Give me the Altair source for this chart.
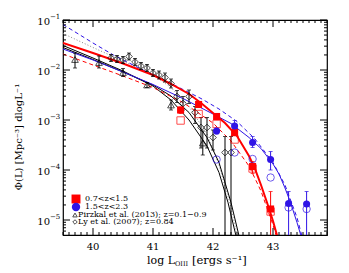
import altair as alt
import pandas as pd

# ---------------- data (log10 of phi) ----------------
red_x = [41.46, 41.76, 42.06, 42.36, 42.66, 42.96]
red_logphi = [-2.80, -2.69, -2.93, -3.25, -3.93, -4.78]
red_lo = [-2.87, -2.75, -2.99, -3.31, -4.07, -5.6]
red_hi = [-2.74, -2.63, -2.87, -3.19, -3.83, -4.43]
red_open_logphi = [-3.01, -2.88, -3.08, -3.39, -3.97, -4.83]

blue_x = [42.06, 42.36, 42.66, 42.96, 43.26, 43.56]
blue_logphi = [-3.22, -3.12, -3.45, -3.79, -4.67, -4.68]
blue_lo = [-3.28, -3.19, -3.55, -4.00, -5.6, -5.6]
blue_hi = [-3.16, -3.01, -3.33, -3.63, -4.43, -4.43]
blue_open_logphi = [-3.79, -3.65, -3.78, -4.15, -4.75, -4.78]

pirz_x = [39.7, 40.1, 40.5, 40.9, 41.3, 41.83]
pirz_logphi = [-1.79, -1.85, -2.05, -2.30, -2.70, -3.46]
pirz_lo = [-1.96, -1.96, -2.13, -2.35, -2.80, -3.70]
pirz_hi = [-1.66, -1.72, -1.97, -2.25, -2.60, -3.22]

ly_x = [40.3, 40.4, 40.5, 40.6, 40.7, 40.8, 40.9, 41.0, 41.1, 41.2,
        41.3, 41.4, 41.5, 41.6, 41.7, 41.8, 41.9, 42.0, 42.2, 42.3]
ly_logphi = [-1.76, -1.78, -1.80, -1.73, -1.84, -1.92, -1.96, -2.06, -2.10, -2.15,
             -2.27, -2.53, -2.67, -2.53, -2.85, -3.15, -3.15, -3.35, -3.65, -3.65]
ly_lo = [-1.83, -1.85, -1.87, -1.80, -1.91, -1.99, -2.03, -2.13, -2.18, -2.24,
         -2.36, -2.65, -2.80, -2.67, -3.07, -3.56, -3.56, -3.60, -5.6, -5.6]
ly_hi = [-1.69, -1.71, -1.73, -1.66, -1.77, -1.85, -1.89, -1.99, -2.02, -2.06,
         -2.18, -2.41, -2.53, -2.40, -2.73, -2.95, -2.95, -3.20, -3.33, -3.33]

# fitted curves
red_fit_x = [39.5, 40.0, 40.5, 41.0, 41.3, 41.6, 41.8, 42.0, 42.2, 42.4, 42.6, 42.7, 42.8, 42.9, 43.0, 43.1]
red_fit_y = [-1.46, -1.66, -1.87, -2.10, -2.28, -2.48, -2.66, -2.86, -3.06, -3.32, -3.72, -3.98, -4.30, -4.65, -5.02, -5.45]
red_dash_x = [39.5, 40.0, 40.5, 41.0, 41.5, 42.0, 42.3, 42.6, 42.8, 43.0, 43.1]
red_dash_y = [-1.68, -1.90, -2.12, -2.35, -2.65, -3.06, -3.42, -3.92, -4.42, -5.10, -5.50]
blue_fit_x = [39.5, 40.0, 40.5, 41.0, 41.5, 42.0, 42.3, 42.6, 42.8, 43.0, 43.1, 43.2, 43.3, 43.4, 43.5]
blue_fit_y = [-1.58, -1.80, -2.04, -2.29, -2.57, -2.88, -3.07, -3.35, -3.57, -3.88, -4.08, -4.36, -4.68, -5.05, -5.45]
blue_dash_x = [39.5, 40.0, 40.34, 40.8, 41.3, 41.8, 42.1, 42.4, 42.7, 43.0, 43.2, 43.4, 43.5]
blue_dash_y = [-1.09, -1.46, -1.70, -1.98, -2.27, -2.57, -2.78, -3.03, -3.38, -3.85, -4.30, -4.95, -5.40]
blk1_x = [39.5, 40.0, 40.5, 41.0, 41.3, 41.6, 41.9, 42.1, 42.25, 42.4]
blk1_y = [-1.51, -1.76, -2.02, -2.32, -2.60, -3.00, -3.52, -4.05, -4.65, -5.40]
blk2_x = [39.5, 40.0, 40.5, 41.0, 41.3, 41.6, 41.9, 42.1, 42.3, 42.45]
blk2_y = [-1.55, -1.79, -2.04, -2.30, -2.52, -2.85, -3.35, -3.85, -4.65, -5.40]
dot_x = [39.5, 40.0, 40.5, 41.0, 41.3, 41.6, 41.9, 42.1, 42.3, 42.42]
dot_y = [-1.27, -1.55, -1.82, -2.10, -2.35, -2.73, -3.28, -3.90, -4.75, -5.40]

x_major = [40, 41, 42, 43]
y_major = [1e-1, 1e-2, 1e-3, 1e-4, 1e-5]
y_sup = ["−1", "−2", "−3", "−4", "−5"]
legend_labels = ["0.7<z<1.5", "1.5<z<2.3", "Pirzkal et al. (2013); z=0.1−0.9", "Ly et al. (2007); z=0.84"]

# ---------------- layout ----------------
W, H = 264, 215
XDOM = [39.5, 43.9]
YDOM = [10 ** -5.3, 0.1]
RED = "#ff0000"
BLUE = "#2f14e6"
SERIF = "DejaVu Serif"

xs = alt.Scale(domain=XDOM)
ys = alt.Scale(type="log", domain=YDOM)


def pts(xv, lv):
    return pd.DataFrame({"x": xv, "phi": [10 ** v for v in lv]})


def X():
    return alt.X("x:Q", scale=xs, axis=None)


def Y(f="phi"):
    return alt.Y(f + ":Q", scale=ys, axis=None)


def curve(xv, lv, color, width=1.0, dash=None):
    kw = dict(color=color, strokeWidth=width, clip=True)
    if dash:
        kw["strokeDash"] = dash
    return alt.Chart(pts(xv, lv)).mark_line(**kw).encode(x=X(), y=Y())


def errbars(xv, lo, hi, color):
    d = pd.DataFrame({"x": xv, "lo": [10 ** v for v in lo], "hi": [10 ** v for v in hi]})
    r = alt.Chart(d).mark_rule(color=color, strokeWidth=1, clip=True).encode(
        x=X(), y=Y("lo"), y2="hi")
    c1 = alt.Chart(d).mark_tick(color=color, orient="horizontal", size=4, thickness=1, clip=True).encode(
        x=X(), y=Y("lo"))
    c2 = alt.Chart(d).mark_tick(color=color, orient="horizontal", size=4, thickness=1, clip=True).encode(
        x=X(), y=Y("hi"))
    return r + c1 + c2


layers = []
layers.append(curve(dot_x, dot_y, "#888888", 1.0, [1, 2]))
layers.append(curve(blk1_x, blk1_y, "black", 1.0))
layers.append(curve(blk2_x, blk2_y, "black", 1.0))
layers.append(curve(blue_dash_x, blue_dash_y, BLUE, 1.0, [4, 3]))
layers.append(curve(red_dash_x, red_dash_y, RED, 1.0, [4, 3]))
layers.append(curve(blue_fit_x, blue_fit_y, BLUE, 1.0))
layers.append(curve(red_fit_x, red_fit_y, RED, 2.0))

layers.append(errbars(ly_x, ly_lo, ly_hi, "black"))
layers.append(errbars(pirz_x, pirz_lo, pirz_hi, "black"))
layers.append(errbars(red_x, red_lo, red_hi, RED))
layers.append(errbars(blue_x, blue_lo, blue_hi, BLUE))

layers.append(alt.Chart(pts(ly_x, ly_logphi)).mark_point(
    shape="diamond", filled=False, color="black", size=45, strokeWidth=1).encode(x=X(), y=Y()))
layers.append(alt.Chart(pts(pirz_x, pirz_logphi)).mark_point(
    shape="triangle-up", filled=False, color="black", size=45, strokeWidth=1).encode(x=X(), y=Y()))
layers.append(alt.Chart(pts(red_x, red_open_logphi)).mark_point(
    shape="square", filled=False, color=RED, size=55, strokeWidth=1).encode(x=X(), y=Y()))
layers.append(alt.Chart(pts(blue_x, blue_open_logphi)).mark_point(
    shape="circle", filled=False, color=BLUE, size=55, strokeWidth=1).encode(x=X(), y=Y()))
layers.append(alt.Chart(pts(red_x, red_logphi)).mark_point(
    shape="square", filled=True, color=RED, size=50, opacity=1).encode(x=X(), y=Y()))
layers.append(alt.Chart(pts(blue_x, blue_logphi)).mark_point(
    shape="circle", filled=True, color=BLUE, size=50, opacity=1).encode(x=X(), y=Y()))

# ---------------- inward ticks on all four sides ----------------
x_minor = [round(39.5 + 0.1 * i, 1) for i in range(45) if round(39.5 + 0.1 * i, 1) not in x_major]
y_minor = [k * 10 ** n for n in range(-6, 0) for k in range(2, 10) if YDOM[0] <= k * 10 ** n <= YDOM[1]]


def xticks(vals, ln):
    d = pd.DataFrame({"x": vals})
    b = alt.Chart(d).mark_rule(color="black", strokeWidth=1).encode(
        x=X(), y=alt.value(H), y2=alt.value(H - ln))
    t = alt.Chart(d).mark_rule(color="black", strokeWidth=1).encode(
        x=X(), y=alt.value(0), y2=alt.value(ln))
    return b + t


def yticks(vals, ln):
    d = pd.DataFrame({"phi": vals})
    l = alt.Chart(d).mark_rule(color="black", strokeWidth=1).encode(
        y=Y(), x=alt.value(0), x2=alt.value(ln))
    r = alt.Chart(d).mark_rule(color="black", strokeWidth=1).encode(
        y=Y(), x=alt.value(W), x2=alt.value(W - ln))
    return l + r


layers += [xticks(x_minor, 3), xticks(x_major, 7), yticks(y_minor, 3), yticks(y_major, 7)]

# ---------------- tick labels ----------------
layers.append(alt.Chart(pd.DataFrame({"x": x_major, "t": [str(v) for v in x_major]})).mark_text(
    font=SERIF, fontSize=10, baseline="middle", align="center", color="black").encode(
    x=X(), y=alt.value(H + 12), text="t:N"))
ylab = pd.DataFrame({"phi": y_major, "t": ["10"] * 5, "s": y_sup})
layers.append(alt.Chart(ylab).mark_text(
    font=SERIF, fontSize=10, baseline="middle", align="right", color="black", dy=2).encode(
    y=Y(), x=alt.value(-13), text="t:N"))
layers.append(alt.Chart(ylab).mark_text(
    font=SERIF, fontSize=7, baseline="middle", align="left", color="black", dy=-3).encode(
    y=Y(), x=alt.value(-13), text="s:N"))


# ---------------- axis titles ----------------
def txt(s, x, y, size, align="left", angle=0):
    kw = dict(font=SERIF, fontSize=size, align=align, baseline="middle", color="black")
    if angle:
        kw["angle"] = angle
    return alt.Chart(pd.DataFrame({"t": [s]})).mark_text(**kw).encode(
        x=alt.value(x), y=alt.value(y), text="t:N")


layers.append(txt("log L", 84, 241, 11))
layers.append(txt("OIII", 112, 244, 6.5))
layers.append(txt("[ergs s⁻¹]", 129, 241, 11.5))
layers.append(txt("Φ(L) [Mpc⁻³] dlogL⁻¹", -44, 117, 10, align="center", angle=270))

# ---------------- legend ----------------
one = pd.DataFrame({"a": [0]})
layers.append(alt.Chart(one).mark_point(
    shape="square", filled=True, color=RED, size=80, opacity=1).encode(x=alt.value(13), y=alt.value(179)))
layers.append(alt.Chart(one).mark_point(
    shape="circle", filled=True, color=BLUE, size=70, opacity=1).encode(x=alt.value(13), y=alt.value(187)))
layers.append(alt.Chart(one).mark_point(
    shape="triangle-up", filled=False, color="black", size=20, strokeWidth=1).encode(x=alt.value(12), y=alt.value(195)))
layers.append(alt.Chart(one).mark_point(
    shape="diamond", filled=False, color="black", size=20, strokeWidth=1).encode(x=alt.value(12), y=alt.value(202)))
layers.append(txt(legend_labels[0], 22, 179, 8))
layers.append(txt(legend_labels[1], 22, 187, 8))
layers.append(txt(legend_labels[2], 15, 195, 8))
layers.append(txt(legend_labels[3], 15, 202, 8))

chart = alt.layer(*layers).properties(
    width=W, height=H,
    autosize=alt.AutoSizeParams(type="none"),
    padding={"left": 55, "top": 12, "right": 14, "bottom": 36},
    background="white",
).configure_view(stroke="black", strokeWidth=1.2)

chart.save("out.html", embed_options={"renderer": "svg", "actions": False})
